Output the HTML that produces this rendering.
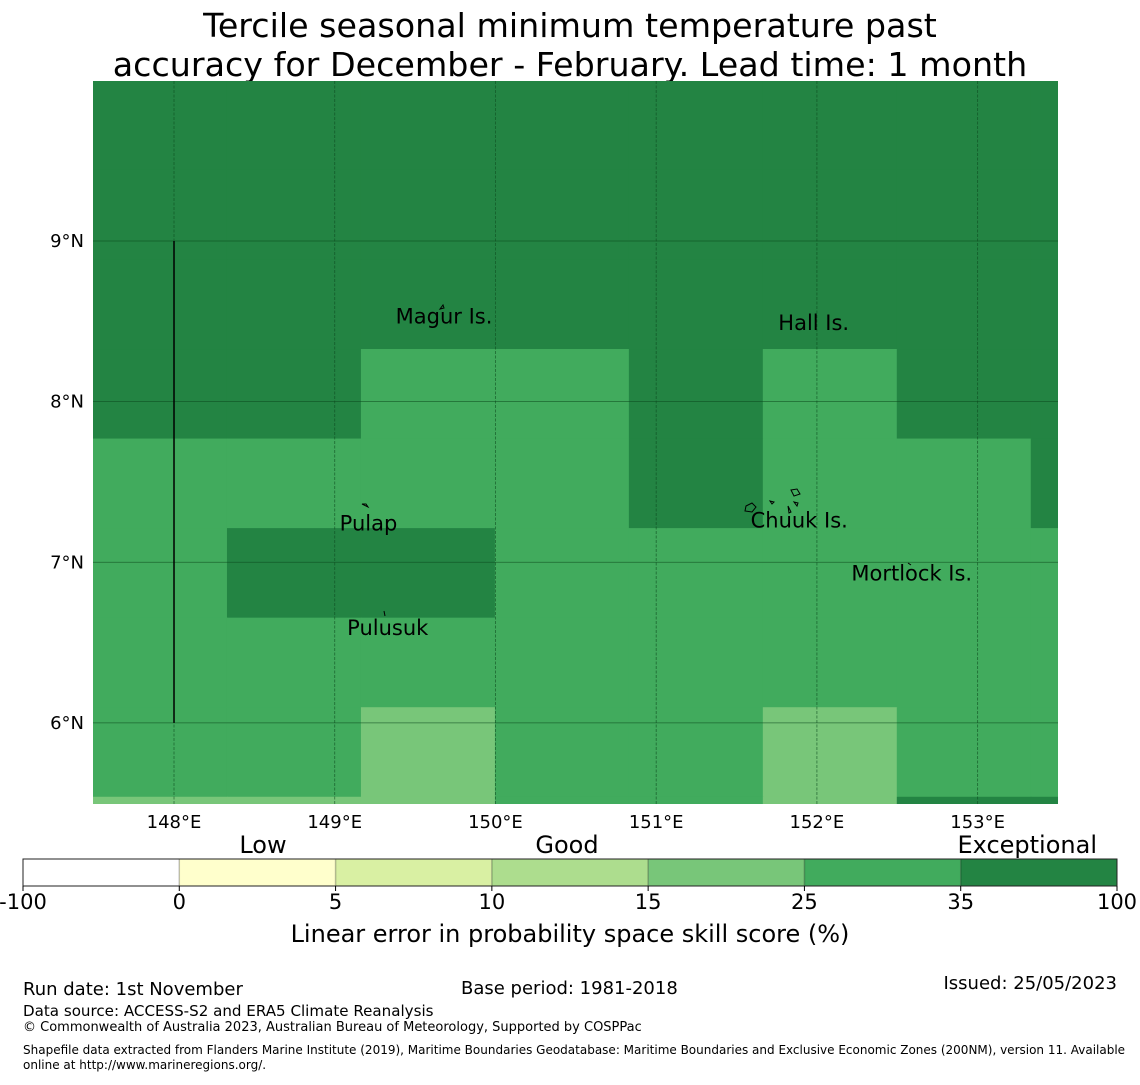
<!DOCTYPE html>
<html><head><meta charset="utf-8">
<style>
html,body{margin:0;padding:0;background:#fff;}
svg text{font-family:"DejaVu Sans","Liberation Sans",sans-serif;}
</style></head>
<body>
<svg id="chart" width="1140" height="1080" viewBox="0 0 1140 1080" xmlns="http://www.w3.org/2000/svg">
<text x="570" y="37" font-size="33.3" text-anchor="middle">Tercile seasonal minimum temperature past</text>
<text x="570" y="76" font-size="33.3" text-anchor="middle">accuracy for December - February. Lead time: 1 month</text>
<g id="map"></g>
<g id="cbar"></g>
<text x="570" y="942" font-size="24" text-anchor="middle">Linear error in probability space skill score (%)</text>
<text x="23" y="995" font-size="18">Run date: 1st November</text>
<text x="461" y="994" font-size="18">Base period: 1981-2018</text>
<text x="1117" y="989" font-size="18" text-anchor="end">Issued: 25/05/2023</text>
<text x="23" y="1016" font-size="15.1">Data source: ACCESS-S2 and ERA5 Climate Reanalysis</text>
<text x="23" y="1031" font-size="13">© Commonwealth of Australia 2023, Australian Bureau of Meteorology, Supported by COSPPac</text>
<text x="23" y="1054" font-size="12">Shapefile data extracted from Flanders Marine Institute (2019), Maritime Boundaries Geodatabase: Maritime Boundaries and Exclusive Economic Zones (200NM), version 11. Available</text>
<text x="23" y="1069" font-size="12">online at http://www.marineregions.org/.</text>
</svg>
<script>
// ---- data ----
const cellValues = [
 [40,40,40,40,40,40,40,40],
 [40,40,40,40,40,40,40,40],
 [40,40,40,40,40,40,40,40],
 [40,40,30,30,40,30,40,40],
 [30,30,30,30,40,30,30,40],
 [30,40,40,30,30,30,30,30],
 [30,30,30,30,30,30,30,30],
 [30,30,20,30,30,20,30,30],
 [20,20,20,30,30,20,40,40]
];
const lonTicks = [148,149,150,151,152,153];
const latTicks = [9,8,7,6];
const binEdges = [-100,0,5,10,15,25,35,100];
const binLabels = ["-100","0","5","10","15","25","35","100"];
const binColors = ["#ffffff","#ffffcc","#d9f0a3","#addd8e","#78c679","#41ab5d","#238443"];
const places = [
 {name:"Magur Is.", lon:149.68, lat:8.53},
 {name:"Hall Is.", lon:151.98, lat:8.49},
 {name:"Pulap", lon:149.21, lat:7.24},
 {name:"Chuuk Is.", lon:151.89, lat:7.26},
 {name:"Mortlock Is.", lon:152.59, lat:6.93},
 {name:"Pulusuk", lon:149.33, lat:6.59}
];
// ---- geometry ----
const NS="http://www.w3.org/2000/svg";
const X0=93,X1=1058,Y0=81,Y1=804;
const lonMin=147.496,lonMax=153.5,latMax=9.996,latMin=5.495;
const cellW=0.8335, cellH=0.5575, gridTop=10.0;
const xs=l=>X0+(l-lonMin)/(lonMax-lonMin)*(X1-X0);
const ys=l=>Y0+(latMax-l)/(latMax-latMin)*(Y1-Y0);
function colorFor(v){for(let i=0;i<binColors.length;i++){if(v<binEdges[i+1])return binColors[i];}return binColors[binColors.length-1];}
function mk(tag,attrs,parent){const e=document.createElementNS(NS,tag);for(const k in attrs)e.setAttribute(k,attrs[k]);parent.appendChild(e);return e;}
const map=document.getElementById('map');
const clip=mk('clipPath',{id:'mc'},map);mk('rect',{x:X0,y:Y0,width:X1-X0,height:Y1-Y0},clip);
const cells=mk('g',{'clip-path':'url(#mc)'},map);
cellValues.forEach((row,r)=>row.forEach((v,c)=>{
  const la=gridTop-r*cellH, lo=lonMin+c*cellW;
  const x=xs(lo), y=ys(la), w=xs(lo+cellW)-x, h=ys(la-cellH)-y;
  const e=mk('rect',{x:x,y:y,width:w+0.6,height:h+0.6,fill:colorFor(v)},cells);
  
  
}));
lonTicks.forEach(l=>{
  const x=xs(l);
  const g=mk('line',{x1:x,y1:Y0,x2:x,y2:Y1,stroke:'#0d4a1e','stroke-width':0.8,'stroke-dasharray':'3,1.5','stroke-opacity':0.7},map);
  
  
  const t=mk('text',{x:x,y:828,'font-size':18,'text-anchor':'middle'},map);t.textContent=l+"°E";
  
  
});
latTicks.forEach(l=>{
  const y=ys(l);
  const g=mk('line',{x1:X0,y1:y,x2:X1,y2:y,stroke:'#0d4a1e','stroke-width':0.8,'stroke-opacity':0.7},map);
  
  
  const t=mk('text',{x:84,y:y+6,'font-size':18,'text-anchor':'end'},map);t.textContent=l+"°N";
  
  
});
const bl=mk('line',{x1:xs(148),y1:ys(9),x2:xs(148),y2:ys(6),stroke:'#000','stroke-width':1.5},map);


// island outlines (approximate)
const isl=mk('g',{fill:'none',stroke:'#000','stroke-width':1},map);


['M440,309 l3,-4 l1,3 z','M362,504 l4,0 l2,3 z','M384,611 l1,5','M791,490 l6,-1 l3,5 l-6,2 z','M746,506 l6,-3 l4,4 l-4,5 l-7,-1 z','M770,501 l4,1 l-2,2 z','M788,506 l3,6 l-2,1 z','M794,502 l4,1 l-1,3 z','M908,563 l3,2'].forEach(d=>mk('path',{d:d},isl));
places.forEach(p=>{
  const t=mk('text',{x:xs(p.lon),y:ys(p.lat)+7,'font-size':21,'text-anchor':'middle'},map);t.textContent=p.name;
  
  
});
// ---- colorbar ----
const cb=document.getElementById('cbar');
const CX0=23,CX1=1117,CY0=859,CY1=886,n=binColors.length,sw=(CX1-CX0)/n;
binColors.forEach((c,i)=>{
  const e=mk('rect',{x:CX0+i*sw,y:CY0,width:sw,height:CY1-CY0,fill:c},cb);
  
  
  if(i>0){mk('line',{x1:CX0+i*sw,y1:CY0,x2:CX0+i*sw,y2:CY1,stroke:'#000','stroke-opacity':0.25,'stroke-width':1.5},cb);}
});
mk('rect',{x:CX0,y:CY0,width:CX1-CX0,height:CY1-CY0,fill:'none',stroke:'#222','stroke-width':1},cb);
binLabels.forEach((l,i)=>{
  const x=CX0+i*sw;
  mk('line',{x1:x,y1:CY1,x2:x,y2:CY1+5,stroke:'#000'},cb);
  const t=mk('text',{x:x,y:909,'font-size':21,'text-anchor':'middle'},cb);t.textContent=l;
  
  
});
[["Low",263,"middle"],["Good",567,"middle"],["Exceptional",1097,"end"]].forEach(a=>{
  const t=mk('text',{x:a[1],y:853,'font-size':24,'text-anchor':a[2]},cb);t.textContent=a[0];
  
  
});
</script>
</body></html>
